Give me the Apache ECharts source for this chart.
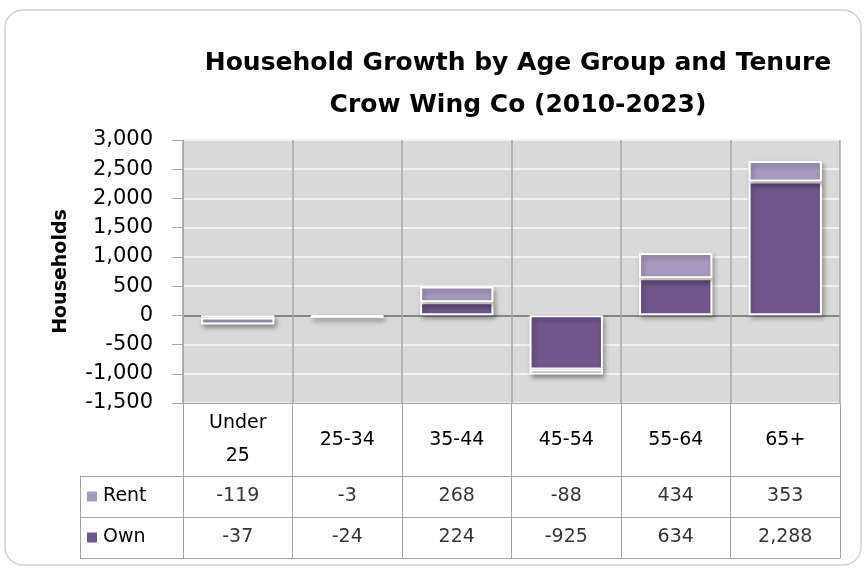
<!DOCTYPE html>
<html>
<head>
    <meta charset="utf-8">
    <title>Household Growth</title>
    <script src="https://cdn.jsdelivr.net/npm/echarts@6/dist/echarts.min.js"></script>
</head>
<body style="margin:0;background:#fff;">
    <div id="main" style="width:867px;height:569px;"></div>
    <script type="text/javascript">
        // data
        var ageGroups = ['Under\n25', '25-34', '35-44', '45-54', '55-64', '65+'];
        var rentValues = [-119, -3, 268, -88, 434, 353];
        var ownValues = [-37, -24, 224, -925, 634, 2288];
        var tableRows = ['Own', 'Rent'];

        var ownColor = '#70568C';
        var rentColor = '#A899BE';
        var lineGray = '#A6A6A6';
        var fontFam = '"DejaVu Sans", sans-serif';

        var fmt = function (v) {
            return Number(v).toLocaleString('en-US');
        };

        // cells for the data table
        var cells = [];
        for (var i = 0; i < ageGroups.length; i++) {
            cells.push([i, 'Rent', rentValues[i]]);
            cells.push([i, 'Own', ownValues[i]]);
        }

        var myChart = echarts.init(document.getElementById('main'));

        var barStyle = function (c) {
            return {
                color: c,
                borderColor: '#fff',
                borderWidth: 2,
                shadowBlur: 5,
                shadowOffsetX: 2,
                shadowOffsetY: 3,
                shadowColor: 'rgba(0,0,0,0.35)'
            };
        };

        var option = {
            animation: false,
            title: {
                text: 'Household Growth by Age Group and Tenure\nCrow Wing Co (2010-2023)',
                left: 513,
                top: 37,
                textAlign: 'center',
                textStyle: {
                    fontFamily: fontFam,
                    fontWeight: 'bold',
                    fontSize: 25,
                    lineHeight: 42,
                    color: '#000'
                }
            },
            graphic: [{
                type: 'rect',
                shape: { x: 5, y: 10, width: 856, height: 555, r: 18 },
                style: { fill: 'none', stroke: '#D0D0D0', lineWidth: 1.5 },
                z: -10
            }],
            grid: [{
                left: 183, right: 27, top: 140, bottom: 166,
                show: true, backgroundColor: '#D9D9D9', borderWidth: 0
            }, {
                left: 183, right: 27, top: 476, bottom: 11
            }],
            xAxis: [{
                type: 'category',
                gridIndex: 0,
                data: ageGroups,
                position: 'bottom',
                axisLine: { onZero: false, lineStyle: { color: lineGray, width: 1 } },
                axisTick: { show: true, length: 155, lineStyle: { color: lineGray } },
                splitLine: { show: true, lineStyle: { color: lineGray, width: 1.5 } },
                axisLabel: {
                    interval: 0,
                    margin: 37,
                    verticalAlign: 'middle',
                    fontFamily: fontFam,
                    fontSize: 19,
                    lineHeight: 33,
                    color: '#000'
                }
            }, {
                type: 'category',
                gridIndex: 1,
                data: ageGroups,
                axisLine: { show: true, lineStyle: { color: lineGray } },
                axisTick: { show: false },
                axisLabel: { show: false },
                splitLine: { show: false }
            }],
            yAxis: [{
                type: 'value',
                gridIndex: 0,
                min: -1500,
                max: 3000,
                interval: 500,
                name: 'Households',
                nameLocation: 'middle',
                nameGap: 112,
                nameTextStyle: {
                    fontFamily: fontFam,
                    fontWeight: 'bold',
                    fontSize: 19,
                    color: '#000'
                },
                axisLine: { show: true, lineStyle: { color: lineGray } },
                axisTick: { show: true, length: 11, lineStyle: { color: lineGray } },
                splitLine: {
                    show: true,
                    lineStyle: {
                        color: ['#F2F2F2', '#F2F2F2', '#F2F2F2', '#868686', '#F2F2F2', '#F2F2F2', '#F2F2F2', '#F2F2F2', '#F2F2F2', '#F2F2F2'],
                        width: 2
                    }
                },
                axisLabel: {
                    margin: 30,
                    fontFamily: fontFam,
                    fontSize: 21,
                    color: '#000',
                    formatter: fmt
                }
            }, {
                type: 'category',
                gridIndex: 1,
                data: tableRows,
                axisLine: { show: true, lineStyle: { color: lineGray } },
                axisTick: { show: true, length: 103, lineStyle: { color: lineGray } },
                splitLine: { show: true, lineStyle: { color: lineGray } },
                axisLabel: {
                    align: 'left',
                    margin: 96,
                    fontFamily: fontFam,
                    fontSize: 19,
                    color: '#000',
                    formatter: function (v) {
                        return (v === 'Rent' ? '{r|}' : '{o|}') + ' ' + v;
                    },
                    rich: {
                        r: { backgroundColor: rentColor, width: 10, height: 10 },
                        o: { backgroundColor: ownColor, width: 10, height: 10 }
                    }
                }
            }, {
                type: 'category',
                gridIndex: 1,
                data: tableRows,
                position: 'left',
                offset: 103,
                axisLine: { show: true, lineStyle: { color: lineGray } },
                axisTick: { show: false },
                axisLabel: { show: false },
                splitLine: { show: false }
            }],
            series: [{
                name: 'Own',
                type: 'bar',
                stack: 'tenure',
                xAxisIndex: 0,
                yAxisIndex: 0,
                barWidth: '67%',
                data: ownValues,
                itemStyle: barStyle(ownColor)
            }, {
                name: 'Rent',
                type: 'bar',
                stack: 'tenure',
                xAxisIndex: 0,
                yAxisIndex: 0,
                barWidth: '67%',
                data: rentValues,
                itemStyle: barStyle(rentColor)
            }, {
                name: 'table',
                type: 'scatter',
                xAxisIndex: 1,
                yAxisIndex: 1,
                symbolSize: 1,
                itemStyle: { color: 'rgba(0,0,0,0)' },
                data: cells,
                label: {
                    show: true,
                    position: 'inside',
                    fontFamily: fontFam,
                    fontSize: 19,
                    color: '#000',
                    formatter: function (p) {
                        return fmt(p.value[2]);
                    }
                }
            }]
        };

        myChart.setOption(option);
    </script>
</body>
</html>
